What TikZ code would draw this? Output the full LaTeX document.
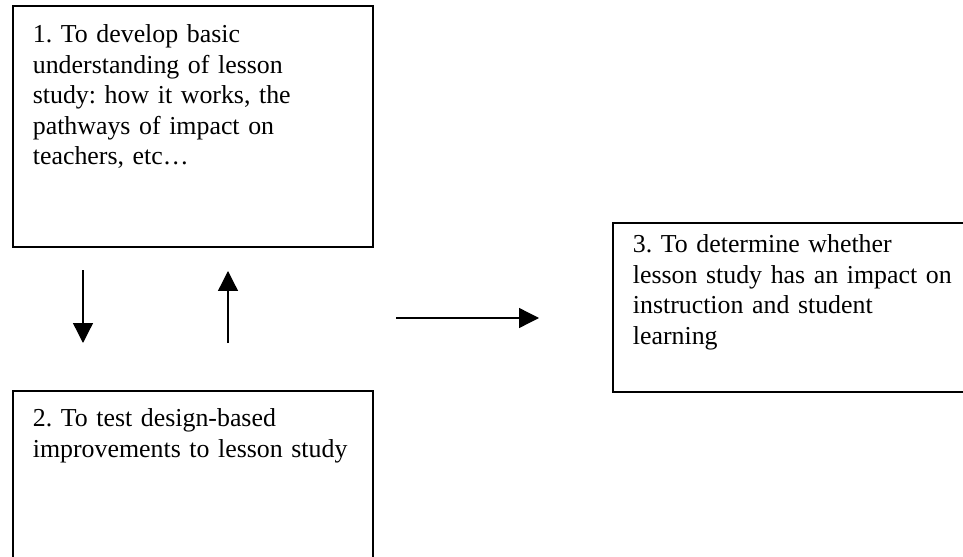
\documentclass[tikz,border=0pt]{standalone}
\usepackage{fontspec}
\setmainfont{Liberation Serif}
\usetikzlibrary{arrows.meta}
\frenchspacing

\begin{document}
\begin{tikzpicture}[x=0.4525pt,y=-0.4525pt,font=\fontsize{11.7}{13.8}\selectfont,
  goal/.style={draw,line width=0.8pt,anchor=north west,align=left,inner xsep=9.05pt,inner ysep=0pt},
  link/.style={line width=0.6pt,-{Triangle[length=9pt,width=9pt]}}]

\useasboundingbox (0,0) rectangle (963,557);
\clip (0,0) rectangle (963,557);

\begin{scope}
\node[goal,text width=144.8pt,text height=16.7pt,text depth=92.3pt] (g1) at (12,5)
  {1. To develop basic\\ understanding of lesson\\ study: how it works, the\\ pathways of impact on\\ teachers, etc…};
\node[goal,text width=144.8pt,text height=16.3pt,text depth=74.2pt] (g2) at (12,390)
  {2. To test design-based\\ \mbox{improvements to lesson study}};
\node[goal,text width=162.9pt,text height=13.6pt,text depth=62.9pt] (g3) at (612,222)
  {3. To determine whether\\ lesson study has an impact on\\ instruction and student\\ learning};

\coordinate (d1) at (83,270);
\coordinate (d2) at (83,343);
\coordinate (u1) at (228,343);
\coordinate (u2) at (228,271);
\coordinate (r1) at (396,318);
\coordinate (r2) at (539,318);

\draw[link] (d1) -- (d2);
\draw[link] (u1) -- (u2);
\draw[link] (r1) -- (r2);
\end{scope}

\end{tikzpicture}
\end{document}
